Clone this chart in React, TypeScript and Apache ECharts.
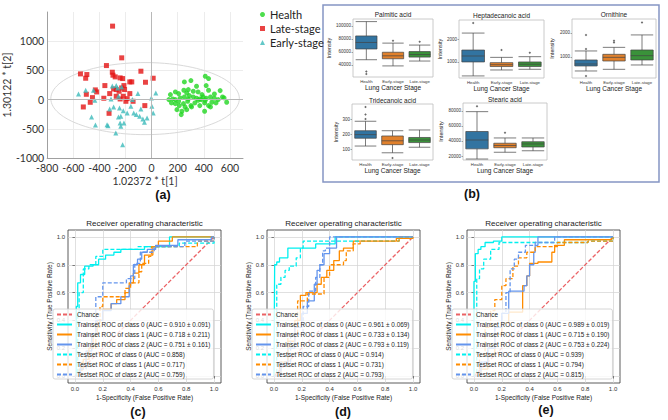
import React, { useEffect, useRef } from "react";
import * as echarts from "echarts";

// ---------- (a) PCA / PLS score plot ----------
const healthPoints = [
  [251, 303], [301, 326], [411, 400], [436, 360], [344, 229], [418, 240], [182, 131], [207, 103], [247, 160], [269, 114],
  [281, 172], [319, 143], [356, 131], [386, 86], [436, 160], [525, 154], [144, 86], [162, 11], [182, 0], [219, 29],
  [251, 46], [281, 11], [319, 46], [344, 23], [369, 11], [394, 46], [418, 23], [451, 46], [481, 23], [510, 0],
  [543, 46], [575, -46], [182, -69], [212, -103], [244, -69], [276, -29], [301, -103], [331, -57], [369, -103], [406, -57],
  [436, -103], [461, -46], [194, -172], [232, -200], [227, -257], [269, -172], [306, -126], [406, -200], [451, -126], [132, 0],
  [152, -57], [256, -126], [356, -11], [381, 0], [411, -11], [481, 97], [555, 29], [493, -57], [289, 69], [207, -29],
];
const latePoints = [
  [-299, 1258], [-229, 715], [-346, 583], [-545, 440], [-496, 429], [-505, 366], [-301, 469], [-296, 418], [-279, 389], [-241, 372],
  [-222, 360], [-82, 486], [-167, 303], [-152, 303], [12, 366], [-47, 297], [-358, 240], [-212, 240], [-431, 166], [-421, 131],
  [-500, 91], [-453, 34], [-366, 23], [-321, 103], [-291, 183], [-271, 172], [-249, 143], [-229, 200], [-207, 172], [-271, 57],
  [-241, 11], [-217, 57], [-187, 17], [-197, -29], [-142, -29], [-470, -46], [-523, -126], [-326, -235], [-52, -103], [-167, 103],
];
const earlyPoints = [
  [-560, 97], [-505, 160], [-445, 160], [-435, -11], [-460, -297], [-430, -435], [-341, -429], [-334, -446], [-274, -572], [-222, -772],
  [-321, -160], [-291, -126], [-271, 240], [-261, 200], [-229, 217], [-254, 57], [-311, 11], [-246, -143], [-254, -297], [-236, -286],
  [-217, -189], [-187, -229], [-159, -114], [-147, 0], [-137, -229], [-117, -257], [-92, -286], [-82, -160], [-67, -332], [-55, -389],
  [-35, -315], [2, -114], [-2, 29], [32, 114], [12, -229], [-241, -400], [-212, -400], [-236, -458], [-105, 103], [-301, 234],
];
const ellipseCenter = [-50, 17];
const ellipseRadii = [722, 617];
const scoreXTicks = [-800, -600, -400, -200, 0, 200, 400, 600];
const scoreYTicks = [-1000, -500, 0, 500, 1000];

// ---------- (b) box plots ----------
const stages = ["Health", "Early-stage", "Late-stage"];
const metabolites = ["Palmitic acid", "Heptadecanoic acid", "Ornithine", "Tridecanoic acid", "Stearic acid"];
// [lower whisker, Q1, median, Q3, upper whisker] per stage
const palmiticBox = [[48000, 64500, 74500, 84500, 106500], [38500, 49500, 54000, 59500, 73500], [46000, 52000, 56000, 60500, 70500]];
const palmiticOut = [[30000, 26000], [77000], [75500]];
const palmiticTicks = [40000, 60000, 80000, 100000];
const heptaBox = [[390, 1000, 1260, 1520, 2260], [650, 800, 880, 970, 1200], [680, 800, 900, 1000, 1230]];
const heptaOut = [[2700], [1520], [1400]];
const heptaTicks = [1000, 2000];
const ornithineBox = [[417, 625, 708, 875, 1250], [486, 833, 985, 1110, 1400], [667, 875, 1055, 1290, 1917]];
const ornithineOut = [[1333, 1917, 208], [1600, 1680], [2430]];
const ornithineTicks = [1000, 2000];
const tridecBox = [[120, 172, 196, 222, 285], [75, 129, 155, 187, 222], [112, 143, 160, 177, 227]];
const tridecOut = [[300, 330, 380], [40], []];
const tridecTicks = [100, 200, 300];
const stearicBox = [[16000, 29500, 41300, 52600, 79000], [25000, 31000, 34000, 37000, 44000], [27000, 32000, 36000, 39000, 44000]];
const stearicOut = [[86300], [51000], []];
const stearicTicks = [20000, 40000, 60000, 80000];

// ---------- (c)(d)(e) ROC curves ----------
const rocTicks = [0, 0.2, 0.4, 0.6, 0.8, 1.0];
const chanceLine = [[0, 0], [1, 1]];
const classNames = ["class 0", "class 1", "class 2"];

const cTrain0 = [[0, 0], [0.01, 0.5], [0.02, 0.67], [0.04, 0.73], [0.07, 0.79], [0.13, 0.8], [0.17, 0.84], [0.22, 0.87], [0.28, 0.89], [0.33, 0.91], [0.5, 0.93], [0.68, 1.0], [1, 1]];
const cTrain1 = [[0, 0], [0.03, 0.05], [0.06, 0.12], [0.1, 0.2], [0.13, 0.3], [0.16, 0.4], [0.2, 0.48], [0.26, 0.52], [0.3, 0.55], [0.36, 0.6], [0.39, 0.67], [0.42, 0.74], [0.46, 0.8], [0.5, 0.87], [0.56, 0.93], [0.6, 0.97], [0.7, 1.0], [1, 1]];
const cTrain2 = [[0, 0], [0.04, 0.08], [0.08, 0.18], [0.12, 0.3], [0.15, 0.4], [0.2, 0.47], [0.26, 0.52], [0.33, 0.57], [0.39, 0.65], [0.4, 0.72], [0.42, 0.8], [0.45, 0.84], [0.48, 0.89], [0.52, 0.91], [0.58, 0.94], [0.74, 0.98], [0.98, 1.0], [1, 1]];
const cTest0 = [[0, 0], [0.02, 0.45], [0.03, 0.6], [0.06, 0.77], [0.1, 0.8], [0.15, 0.86], [0.2, 0.91], [0.45, 0.93], [0.75, 0.955], [1, 1]];
const cTest1 = [[0, 0], [0.05, 0.1], [0.1, 0.2], [0.15, 0.35], [0.18, 0.5], [0.2, 0.57], [0.36, 0.63], [0.4, 0.67], [0.46, 0.75], [0.48, 0.81], [0.53, 0.86], [0.55, 0.93], [0.88, 0.97], [1, 1]];
const cTest2 = [[0, 0], [0.04, 0.05], [0.08, 0.15], [0.12, 0.3], [0.15, 0.57], [0.2, 0.67], [0.37, 0.7], [0.43, 0.81], [0.47, 0.89], [0.57, 0.93], [0.79, 0.97], [1, 1]];
const cTrainAuc = [[0.910, 0.091], [0.718, 0.211], [0.751, 0.161]];
const cTestAuc = [0.858, 0.717, 0.759];

const dTrain0 = [[0, 0], [0.005, 0.8], [0.02, 0.82], [0.04, 0.85], [0.1, 0.92], [0.3, 0.95], [0.44, 1.0], [1, 1]];
const dTrain1 = [[0, 0], [0.05, 0.1], [0.1, 0.25], [0.15, 0.4], [0.19, 0.58], [0.23, 0.6], [0.31, 0.66], [0.34, 0.71], [0.38, 0.76], [0.43, 0.83], [0.47, 0.9], [0.5, 0.92], [0.57, 0.97], [0.88, 0.99], [1, 1]];
const dTrain2 = [[0, 0], [0.05, 0.08], [0.1, 0.2], [0.15, 0.35], [0.2, 0.45], [0.24, 0.54], [0.29, 0.66], [0.31, 0.76], [0.33, 0.8], [0.36, 0.88], [0.4, 0.92], [0.45, 1.0], [1, 1]];
const dTest0 = [[0, 0], [0.02, 0.66], [0.05, 0.71], [0.08, 0.76], [0.11, 0.79], [0.16, 0.85], [0.19, 0.92], [0.21, 0.97], [0.9, 1.0], [1, 1]];
const dTest1 = [[0, 0], [0.04, 0.1], [0.1, 0.3], [0.17, 0.54], [0.24, 0.59], [0.36, 0.71], [0.4, 0.8], [0.5, 0.83], [0.52, 0.9], [0.57, 0.95], [0.62, 0.97], [0.9, 1.0], [1, 1]];
const dTest2 = [[0, 0], [0.05, 0.1], [0.12, 0.3], [0.21, 0.5], [0.25, 0.61], [0.3, 0.71], [0.33, 0.8], [0.35, 0.9], [0.37, 0.92], [0.4, 1.0], [1, 1]];
const dTrainAuc = [[0.961, 0.069], [0.733, 0.134], [0.793, 0.119]];
const dTestAuc = [0.914, 0.731, 0.793];

const eTrain0 = [[0, 0], [0.0, 0.68], [0.01, 0.88], [0.03, 0.91], [0.05, 0.93], [0.08, 0.96], [0.14, 0.97], [0.2, 1.0], [1, 1]];
const eTrain1 = [[0, 0], [0.05, 0.05], [0.1, 0.15], [0.15, 0.3], [0.2, 0.38], [0.25, 0.46], [0.35, 0.65], [0.38, 0.72], [0.4, 0.81], [0.46, 0.82], [0.56, 0.89], [0.58, 0.94], [0.65, 0.98], [0.99, 1.0], [1, 1]];
const eTrain2 = [[0, 0], [0.05, 0.1], [0.1, 0.2], [0.15, 0.35], [0.2, 0.45], [0.25, 0.61], [0.36, 0.65], [0.38, 0.72], [0.4, 0.8], [0.43, 0.89], [0.44, 0.94], [0.46, 1.0], [1, 1]];
const eTest0 = [[0, 0], [0.02, 0.7], [0.04, 0.77], [0.07, 0.84], [0.12, 0.91], [0.18, 0.96], [0.82, 0.97], [1, 1]];
const eTest1 = [[0, 0], [0.04, 0.15], [0.08, 0.35], [0.12, 0.47], [0.15, 0.55], [0.2, 0.65], [0.23, 0.7], [0.28, 0.79], [0.32, 0.85], [0.38, 0.89], [0.44, 0.93], [0.6, 0.96], [0.82, 0.97], [1, 1]];
const eTest2 = [[0, 0], [0.05, 0.1], [0.1, 0.2], [0.15, 0.35], [0.2, 0.45], [0.23, 0.6], [0.26, 0.77], [0.29, 0.84], [0.32, 0.89], [0.37, 0.94], [0.44, 0.96], [0.58, 1.0], [1, 1]];
const eTrainAuc = [[0.989, 0.019], [0.715, 0.190], [0.753, 0.224]];
const eTestAuc = [0.939, 0.794, 0.815];

// ---------- styling ----------
const FONT_A = "Lato, 'Liberation Sans', sans-serif";
const FONT_M = "'Liberation Sans', 'DejaVu Sans', sans-serif";
const stageColors = ["#3274a1", "#e1812c", "#3a923a"];
const rocColors = ["#00f0f0", "#ff8c00", "#6495ed"];
const plain = (v: number) => String(v);

function buildOption() {
  const grid: any[] = [];
  const xAxis: any[] = [];
  const yAxis: any[] = [];
  const series: any[] = [];
  const legend: any[] = [];
  const graphic: any[] = [];

  // ----- (a) -----
  grid.push({ left: 42, top: 12, width: 201, height: 146 });
  xAxis.push({
    type: "value", gridIndex: 0, min: -800, max: 700,
    axisLine: { show: true, onZero: false, lineStyle: { color: "#a0a0a0" } },
    axisTick: { show: false, customValues: scoreXTicks },
    axisLabel: { customValues: scoreXTicks, formatter: plain, fontSize: 10.5, color: "#333", fontFamily: FONT_A, margin: 4 },
    splitLine: { show: true, lineStyle: { color: "#ececec", width: 1 } },
    name: "1.02372 * t[1]", nameLocation: "middle", nameGap: 17,
    nameTextStyle: { fontSize: 10.5, color: "#333", fontFamily: FONT_A },
  });
  yAxis.push({
    type: "value", gridIndex: 0, min: -1000, max: 1500,
    axisLine: { show: true, onZero: false, lineStyle: { color: "#a0a0a0" } },
    axisTick: { show: false, customValues: scoreYTicks },
    axisLabel: { customValues: scoreYTicks, formatter: plain, fontSize: 10.5, color: "#333", fontFamily: FONT_A, margin: 3 },
    splitLine: { show: true, lineStyle: { color: "#ececec", width: 1 } },
    name: "1.30122 * t[2]", nameLocation: "middle", nameGap: 28,
    nameTextStyle: { fontSize: 10.5, color: "#333", fontFamily: FONT_A },
  });
  const ellipse: number[][] = [];
  for (let a = 0; a <= 360; a += 3) {
    const t = (a * Math.PI) / 180;
    ellipse.push([ellipseCenter[0] + ellipseRadii[0] * Math.cos(t), ellipseCenter[1] + ellipseRadii[1] * Math.sin(t)]);
  }
  series.push({
    type: "line", xAxisIndex: 0, yAxisIndex: 0, data: ellipse, symbol: "none", silent: true,
    lineStyle: { color: "#d9d9d9", width: 1 }, clip: true, z: 1,
    markLine: {
      silent: true, symbol: "none", label: { show: false },
      lineStyle: { color: "#b8b8b8", type: "solid", width: 1 },
      data: [{ xAxis: 0 }, { yAxis: 0 }],
    },
  });
  series.push({ type: "scatter", name: "Health", xAxisIndex: 0, yAxisIndex: 0, data: healthPoints, symbol: "circle", symbolSize: 5, itemStyle: { color: "#22d622" } });
  series.push({ type: "scatter", name: "Late-stage", xAxisIndex: 0, yAxisIndex: 0, data: latePoints, symbol: "rect", symbolSize: 5, itemStyle: { color: "#e31414" } });
  series.push({ type: "scatter", name: "Early-stage", xAxisIndex: 0, yAxisIndex: 0, data: earlyPoints, symbol: "triangle", symbolSize: 5, itemStyle: { color: "#3cbaba" } });
  legend.push({
    data: ["Health", "Late-stage", "Early-stage"], left: 260, top: 9, orient: "vertical",
    itemWidth: 5, itemHeight: 5, itemGap: 3, padding: 0,
    textStyle: { fontSize: 11, color: "#222", fontFamily: FONT_A, lineHeight: 11 },
  });

  // ----- (b) -----
  graphic.push({ type: "rect", shape: { x: 323, y: 5, width: 336, height: 177 }, style: { fill: "none", stroke: "#8595c4", lineWidth: 1.5 }, silent: true });
  const boxes = [palmiticBox, heptaBox, ornithineBox, tridecBox, stearicBox];
  const outs = [palmiticOut, heptaOut, ornithineOut, tridecOut, stearicOut];
  const ticks = [palmiticTicks, heptaTicks, ornithineTicks, tridecTicks, stearicTicks];
  const boxLayout = [
    { left: 353, top: 19, width: 80, height: 58, min: 21500, max: 110500, gap: 21, ty: 14 },
    { left: 459, top: 20, width: 85, height: 58, min: 300, max: 2830, gap: 16, ty: 15 },
    { left: 572, top: 19, width: 84, height: 59, min: 125, max: 2580, gap: 17, ty: 14 },
    { left: 352, top: 104, width: 81, height: 56, min: 27, max: 400, gap: 13, ty: 100 },
    { left: 463, top: 103, width: 84, height: 57, min: 14700, max: 90500, gap: 19, ty: 99 },
  ];
  boxLayout.forEach((L, i) => {
    const gi = 1 + i;
    grid.push({ left: L.left, top: L.top, width: L.width, height: L.height, show: true, borderColor: "#bdbdbd", borderWidth: 0.8 });
    xAxis.push({
      type: "category", gridIndex: gi, data: stages,
      axisLine: { show: false }, axisTick: { show: false },
      axisLabel: { fontSize: 4.3, color: "#333", margin: 2, fontFamily: FONT_M, interval: 0 },
      name: "Lung Cancer Stage", nameLocation: "middle", nameGap: 7,
      nameTextStyle: { fontSize: 6.5, color: "#222", fontFamily: FONT_M },
    });
    yAxis.push({
      type: "value", gridIndex: gi, min: L.min, max: L.max,
      axisLine: { show: false },
      axisTick: { show: true, length: 1.5, customValues: ticks[i], lineStyle: { color: "#555", width: 0.5 } },
      axisLabel: { customValues: ticks[i], formatter: plain, fontSize: 4.5, color: "#333", margin: 2, fontFamily: FONT_M },
      splitLine: { show: false },
      name: "Intensity", nameLocation: "middle", nameGap: L.gap,
      nameTextStyle: { fontSize: 5.5, color: "#222", fontFamily: FONT_M },
    });
    series.push({
      type: "boxplot", xAxisIndex: gi, yAxisIndex: gi, boxWidth: ["80%", "80%"],
      data: boxes[i].map((v, j) => ({ value: v, itemStyle: { color: stageColors[j], borderColor: "#444", borderWidth: 0.7 } })),
    });
    const od: number[][] = [];
    outs[i].forEach((vals, j) => vals.forEach((v) => od.push([j, v])));
    series.push({ type: "scatter", xAxisIndex: gi, yAxisIndex: gi, data: od, symbol: "diamond", symbolSize: 2.5, itemStyle: { color: "#444" } });
    graphic.push({
      type: "text", x: L.left + L.width / 2, y: L.ty,
      style: { text: metabolites[i], align: "center", verticalAlign: "middle", fontSize: 6.5, fill: "#222", fontFamily: FONT_M },
    });
  });

  // ----- (c)(d)(e) -----
  const rocPanels = [
    { train: [cTrain0, cTrain1, cTrain2], test: [cTest0, cTest1, cTest2], trainAuc: cTrainAuc, testAuc: cTestAuc },
    { train: [dTrain0, dTrain1, dTrain2], test: [dTest0, dTest1, dTest2], trainAuc: dTrainAuc, testAuc: dTestAuc },
    { train: [eTrain0, eTrain1, eTrain2], test: [eTest0, eTest1, eTest2], trainAuc: eTrainAuc, testAuc: eTestAuc },
  ];
  const rocLeft = [68, 267, 467];
  const rocTop = 230;
  const rocSize = 153;
  rocPanels.forEach((P, i) => {
    const gi = 6 + i;
    grid.push({ left: rocLeft[i], top: rocTop, width: rocSize, height: rocSize, show: true, borderColor: "#333", borderWidth: 0.8 });
    const axisCommon = {
      type: "value", gridIndex: gi, min: -0.05, max: 1.05,
      axisLine: { show: false },
      axisTick: { show: true, length: 2.5, customValues: rocTicks, lineStyle: { color: "#333", width: 0.6 } },
      axisLabel: { customValues: rocTicks, fontSize: 6, color: "#333", margin: 3, fontFamily: FONT_M, formatter: (v: number) => v.toFixed(1) },
      splitLine: { show: true, lineStyle: { color: "#d2d2d2", width: 0.7 } },
      nameLocation: "middle",
    };
    xAxis.push({ ...axisCommon, name: "1-Specificity (False Positive Rate)", nameGap: 11, nameTextStyle: { fontSize: 6.5, color: "#222", fontFamily: FONT_M } });
    yAxis.push({ ...axisCommon, name: "Sensitivity (True Positive Rate)", nameGap: 15, nameTextStyle: { fontSize: 6.5, color: "#222", fontFamily: FONT_M } });
    const names: string[] = ["Chance"];
    series.push({
      type: "line", name: "Chance", xAxisIndex: gi, yAxisIndex: gi, data: chanceLine, symbol: "none",
      itemStyle: { color: "#e8474a" }, lineStyle: { color: "#e8474a", type: [4, 2], width: 1.3, opacity: 0.85 },
    });
    P.train.forEach((d, k) => {
      const nm = `Trainset ROC of ${classNames[k]} (AUC = ${P.trainAuc[k][0].toFixed(3)} ± ${P.trainAuc[k][1].toFixed(3)})`;
      names.push(nm);
      series.push({
        type: "line", name: nm, xAxisIndex: gi, yAxisIndex: gi, data: d, step: "end", symbol: "none",
        itemStyle: { color: rocColors[k] }, lineStyle: { color: rocColors[k], width: 1.3 },
      });
    });
    P.test.forEach((d, k) => {
      const nm = `Testset ROC of ${classNames[k]} (AUC = ${P.testAuc[k].toFixed(3)})`;
      names.push(nm);
      series.push({
        type: "line", name: nm, xAxisIndex: gi, yAxisIndex: gi, data: d, step: "end", symbol: "none",
        itemStyle: { color: rocColors[k] }, lineStyle: { color: rocColors[k], width: 1.3, type: [4, 2] },
      });
    });
    legend.push({
      data: names, left: rocLeft[i] - 15, top: 309, orient: "vertical",
      itemWidth: 15, itemHeight: 7, itemGap: 3, padding: [2, 3, 1, 3],
      textStyle: { fontSize: 6.4, color: "#222", fontFamily: FONT_M, lineHeight: 7 },
      itemStyle: { opacity: 0 },
      backgroundColor: "rgba(255,255,255,0.8)", borderColor: "#cccccc", borderWidth: 0.8, borderRadius: 2, z: 5,
    });
    graphic.push({
      type: "text", x: rocLeft[i] + rocSize / 2, y: 223,
      style: { text: "Receiver operating characteristic", align: "center", verticalAlign: "middle", fontSize: 8, fill: "#222", fontFamily: FONT_M },
    });
  });

  // panel labels
  const panelLabels = [
    { t: "(a)", x: 163, y: 195 }, { t: "(b)", x: 472, y: 194 },
    { t: "(c)", x: 138, y: 412 }, { t: "(d)", x: 343, y: 412 }, { t: "(e)", x: 546, y: 410 },
  ];
  panelLabels.forEach((p) => graphic.push({
    type: "text", x: p.x, y: p.y,
    style: { text: p.t, align: "center", verticalAlign: "middle", fontSize: 12.5, fontWeight: "bold", fill: "#111", fontFamily: FONT_M },
  }));

  return { animation: false, backgroundColor: "#fff", grid, xAxis, yAxis, series, legend, graphic };
}

export default function App() {
  const ref = useRef<HTMLDivElement>(null);
  useEffect(() => {
    const chart = echarts.init(ref.current!, null, { renderer: "svg" });
    chart.setOption(buildOption() as any);
    return () => chart.dispose();
  }, []);
  return <div ref={ref} style={{ position: "absolute", left: 0, top: 0, width: 668, height: 420 }} />;
}
